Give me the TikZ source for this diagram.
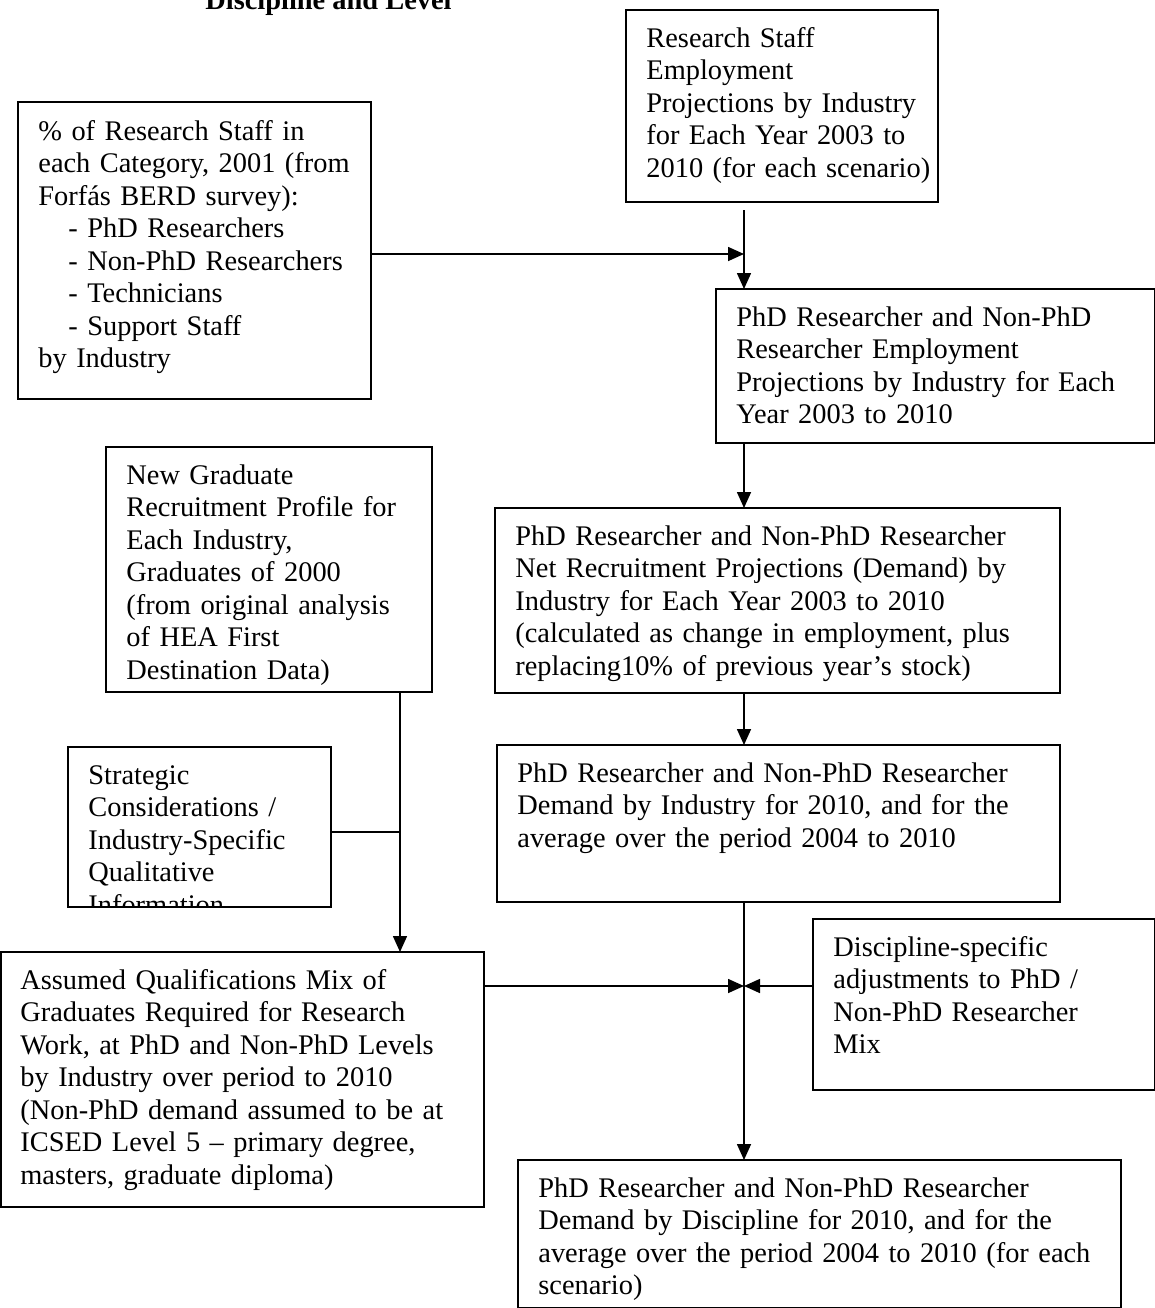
\documentclass[tikz,border=0pt]{standalone}
\usepackage{fontspec}
\setmainfont{Liberation Serif}
\usetikzlibrary{arrows.meta}
\begin{document}
\begin{tikzpicture}[x=0.5pt,y=-0.5pt,
  box/.style={draw, line width=0.8pt, anchor=north west, inner sep=0pt, outer sep=0pt},
  txt/.style={anchor=base west, inner sep=0pt, text width=300pt, align=left, font=\fontsize{14.2}{16.25}\selectfont},
  arr/.style={line width=0.8pt, -{Triangle[length=8pt,width=7pt]}},
  ln/.style={line width=0.8pt}]
\useasboundingbox (0,0) rectangle (1155,1308);
\clip (0,0) rectangle (1155,1308);
\fill[white] (0,0) rectangle (1155,1308);
% title (cut off at top, as in the reference)
\node[anchor=base west, inner sep=0pt, font=\bfseries\fontsize{14.2}{16.25}\selectfont] (title) at (205,9) {Discipline and Level};
% boxes
\node[box, minimum width=156pt, minimum height=96pt] (B) at (626,10) {};
\node[txt] (tB) at (646,47) {Research Staff\\Employment\\Projections by Industry\\for Each Year 2003 to\\2010 (for each scenario)};
\node[box, minimum width=176.5pt, minimum height=148.5pt] (A) at (18,102) {};
\node[txt] (tA) at (38,140) {\% of Research Staff in\\each Category, 2001 (from\\Forfás BERD survey):\\\hspace*{15pt}- PhD Researchers\\\hspace*{15pt}- Non-PhD Researchers\\\hspace*{15pt}- Technicians\\\hspace*{15pt}- Support Staff\\by Industry};
\node[box, minimum width=219.5pt, minimum height=77pt] (C) at (716,289) {};
\node[txt] (tC) at (736,326) {PhD Researcher and Non-PhD\\Researcher Employment\\Projections by Industry for Each\\Year 2003 to 2010};
\node[box, minimum width=163pt, minimum height=122.5pt] (D) at (106,447) {};
\node[txt] (tD) at (126,484) {New Graduate\\Recruitment Profile for\\Each Industry,\\Graduates of 2000\\(from original analysis\\of HEA First\\Destination Data)};
\node[box, minimum width=282.5pt, minimum height=92.5pt] (E) at (495,508) {};
\node[txt] (tE) at (515,545) {PhD Researcher and Non-PhD Researcher\\Net Recruitment Projections (Demand) by\\Industry for Each Year 2003 to 2010\\(calculated as change in employment, plus\\replacing10\% of previous year’s stock)};
\node[box, minimum width=131.5pt, minimum height=80pt] (F) at (68,747) {};
\begin{scope}
\clip (68,747) rectangle (331,907);
\node[txt] (tF) at (88,784) {Strategic\\Considerations /\\Industry-Specific\\Qualitative\\Information};
\end{scope}
\node[box, minimum width=281.5pt, minimum height=78.5pt] (G) at (497,745) {};
\node[txt] (tG) at (517,782) {PhD Researcher and Non-PhD Researcher\\Demand by Industry for 2010, and for the\\average over the period 2004 to 2010};
\node[box, minimum width=241.5pt, minimum height=127.5pt] (H) at (1,952) {};
\node[txt] (tH) at (20,989) {Assumed Qualifications Mix of\\Graduates Required for Research\\Work, at PhD and Non-PhD Levels\\by Industry over period to 2010\\(Non-PhD demand assumed to be at\\ICSED Level 5 – primary degree,\\masters, graduate diploma)};
\node[box, minimum width=171pt, minimum height=85.5pt] (I) at (813,919) {};
\node[txt] (tI) at (833,956) {Discipline-specific\\adjustments to PhD /\\Non-PhD Researcher\\Mix};
\node[box, minimum width=301.5pt, minimum height=74pt] (J) at (518,1160) {};
\node[txt] (tJ) at (538,1197) {PhD Researcher and Non-PhD Researcher\\Demand by Discipline for 2010, and for the\\average over the period 2004 to 2010 (for each\\scenario)};
% connectors
\coordinate (cx) at (744,0);
\coordinate (dx) at (400,0);
\coordinate (ja) at (744,254);
\coordinate (jf) at (400,832);
\coordinate (jh) at (744,986);
\draw[arr] ([yshift=-4pt]B.south -| cx) -- (C.north -| cx);
\draw[arr] (A.east |- ja) -- (ja);
\draw[arr] (C.south -| cx) -- (E.north -| cx);
\draw[arr] (E.south -| cx) -- (G.north -| cx);
\draw[arr] (G.south -| cx) -- (J.north -| cx);
\draw[arr] (D.south -| dx) -- (H.north -| dx);
\draw[ln] (F.east |- jf) -- (jf);
\draw[arr] (H.east |- jh) -- (jh);
\draw[arr] (I.west |- jh) -- (jh);
\end{tikzpicture}
\end{document}
